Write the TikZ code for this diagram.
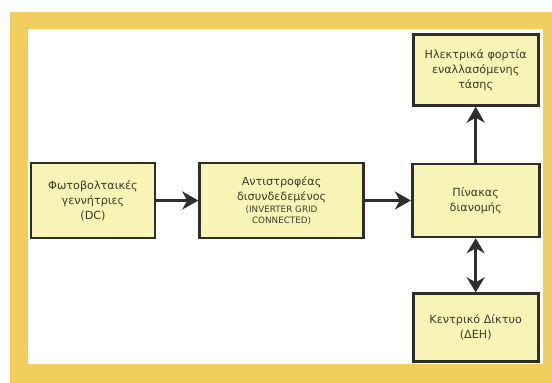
\documentclass[tikz,border=0pt]{standalone}
\usepackage{fontspec}
\setmainfont{DejaVu Sans}
\usetikzlibrary{arrows.meta,positioning}
\definecolor{frm}{HTML}{F2CE5E}
\definecolor{bfill}{HTML}{F7F4B6}
\definecolor{bline}{HTML}{2F2F2A}
\definecolor{txt}{HTML}{3E3C2A}
\tikzset{
  box/.style={draw=bline,line width=2.6pt,fill=bfill,align=center,text=txt,inner sep=2pt,font=\fontsize{11.2}{15}\selectfont},
  ar/.style={-{Stealth[length=16pt,width=18pt,inset=5pt]},line width=3.4pt,draw=bline},
  dar/.style={{Stealth[length=15pt,width=18pt,inset=5pt]}-{Stealth[length=15pt,width=18pt,inset=5pt]},line width=3.4pt,draw=bline},
}
\newcommand{\smalltxt}[1]{{\fontsize{8.8}{10}\selectfont #1}}

\begin{document}
\begin{tikzpicture}[x=1pt,y=-1pt]
  \useasboundingbox (0,0) rectangle (552,383);
  % frame
  \fill[frm] (10,12) rectangle (552,383);
  \fill[white] (28,29) rectangle (543,364);
  \node[box,minimum width=124pt,minimum height=75pt] (pv) at (93,200.5) {Φωτοβολταικές\\γεννήτριες\\(DC)};
  \node[box,minimum width=164pt,minimum height=75pt,right=42pt of pv] (inv) {Αντιστροφέας\\δισυνδεδεμένος\\[-3pt]\smalltxt{(INVERTER GRID}\\[-4pt]\smalltxt{CONNECTED)}};
  \node[box,minimum width=127pt,minimum height=73pt,right=46pt of inv] (pin) {Πίνακας\\διανομής};
  \node[box,minimum width=125pt,minimum height=71pt,above=56pt of pin] (load) {Ηλεκτρικά φορτία\\εναλλασόμενης\\τάσης};
  \node[box,minimum width=125pt,minimum height=68pt,below=54pt of pin] (grid) {Κεντρικό Δίκτυο\\(ΔΕΗ)};
  \draw[ar] (pv) -- (inv);
  \draw[ar] (inv) -- (pin);
  \draw[ar] (pin) -- (load);
  \draw[dar] (pin) -- (grid);
\end{tikzpicture}
\end{document}
